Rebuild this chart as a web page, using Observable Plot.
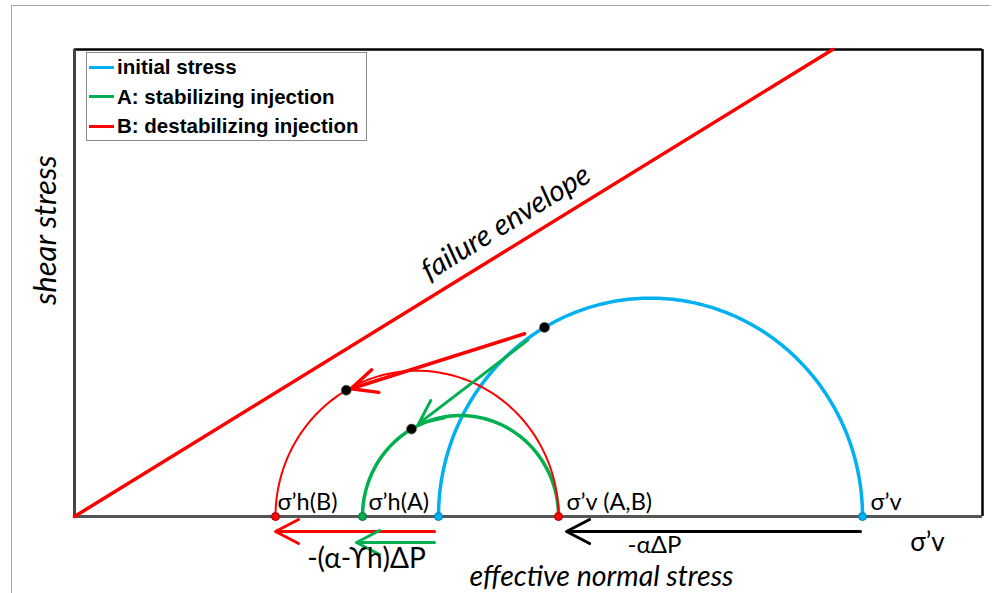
<!DOCTYPE html>
<html>
<head>
<meta charset="utf-8">
<script src="https://cdn.jsdelivr.net/npm/d3@7"></script>
<script src="https://cdn.jsdelivr.net/npm/@observablehq/plot@0.6"></script>
<style>
  body { margin: 0; background: #fff; }
  #wrap { position: relative; width: 999px; height: 593px; overflow: hidden; }
  #sheet { position: absolute; left: 11px; top: 5px; width: 978px; height: 620px;
           border-top: 1px solid #a6a6a6; border-left: 1px solid #a6a6a6; }
  #chart { position: absolute; left: 0; top: 0; }
  #legend { position: absolute; left: 86px; top: 52px; width: 279px; height: 87px;
            border: 1px solid #8c8c8c; background: #fff;
            font: bold 20.5px "Liberation Sans", Arial, sans-serif; color: #000; }
  .row { position: absolute; left: 0; height: 28px; display: flex; align-items: center; white-space: nowrap; }
  .swatch { width: 25px; height: 3px; margin-left: 2px; margin-right: 3px; }
</style>
</head>
<body>
<div id="wrap">
  <div id="sheet"></div>
  <div id="chart"></div>
  <div id="legend"></div>
</div>
<script>
// Mohr circles: initial stress state and the two injection scenarios
const stateNames = ["initial stress", "A: stabilizing injection", "B: destabilizing injection"];
const stateColors = ["#00b0f0", "#00b050", "#ff0000"];
const stateWidths = [3.5, 3.5, 2];
const sigmaH = [36.4, 28.8, 20.1];   // minimum effective stress σ'h
const sigmaV = [78.8, 48.4, 48.4];   // maximum effective stress σ'v
const twoTheta = 120;                 // angle on the circle of the plane of interest, degrees
const mu = 0.598;                     // slope of the failure envelope

// Horizontal shifts drawn under the axis
const shiftFrom  = [36.0, 36.0, 78.6];
const shiftTo    = [20.1, 28.2, 49.2];
const shiftColor = ["#ff0000", "#00b050", "#000000"];
const shiftDy    = [15, 26, 15];

// Point labels on the axis
const pointLabels = ["σ’h(B)", "σ’h(A)", "σ’v (A,B)", "σ’v"];
const pointValues = [20.3, 29.4, 49.2, 79.6];

const xMax = 90.8, yMax = 45.34;

const states = stateNames.map((name, i) => ({
  name, color: stateColors[i], width: stateWidths[i],
  h: sigmaH[i], v: sigmaV[i],
  c: (sigmaH[i] + sigmaV[i]) / 2, r: (sigmaV[i] - sigmaH[i]) / 2
}));

const rad = Math.PI / 180;
const arc = s => d3.range(0, 181, 1).map(a => ({x: s.c + s.r * Math.cos(a * rad), y: s.r * Math.sin(a * rad)}));
const stressPoint = s => ({x: s.c + s.r * Math.cos(twoTheta * rad), y: s.r * Math.sin(twoTheta * rad)});
const [s0, sA, sB] = states;
const p0 = stressPoint(s0), pA = stressPoint(sA), pB = stressPoint(sB);

// screen angle of the envelope (x and y scales differ slightly)
const pxX = (999 - 74 - 17) / xMax, pxY = (593 - 49 - 77) / yMax;
const envAngle = Math.atan(mu * pxY / pxX) / rad;

const axisDots = [
  {x: s0.h, c: s0.color, s: "#0a7fb0"}, {x: s0.v, c: s0.color, s: "#0a7fb0"},
  {x: sA.h, c: sA.color, s: "#0b6b35"},
  {x: sB.h, c: sB.color, s: "#a00000"}, {x: sB.v, c: sB.color, s: "#a00000"}
];

const shifts = shiftFrom.map((f, i) => ({x1: f, x2: shiftTo[i], color: shiftColor[i], dy: shiftDy[i]}));
const labels = pointLabels.map((t, i) => ({t, x: pointValues[i]}));

const font = "Lato, 'Open Sans', sans-serif";

const plot = Plot.plot({
  width: 999, height: 593,
  marginLeft: 74, marginRight: 17, marginTop: 49, marginBottom: 77,
  x: {domain: [0, xMax], axis: null},
  y: {domain: [0, yMax], axis: null},
  style: {background: "transparent", overflow: "visible"},
  marks: [
    // frame
    Plot.ruleY([yMax], {stroke: "#000", strokeWidth: 2.5}),
    Plot.ruleX([xMax], {stroke: "#000", strokeWidth: 2.5}),
    Plot.ruleX([0], {stroke: "#444", strokeWidth: 3}),
    Plot.ruleY([0], {stroke: "#555", strokeWidth: 3}),
    // failure envelope
    Plot.line([[0, 0], [yMax / mu, yMax]], {stroke: "#ff0000", strokeWidth: 3.5}),
    Plot.text(["failure envelope"], {
      x: 44.4, y: 44.4 * mu, dx: -12.6, dy: -20.4, rotate: -envAngle,
      fontFamily: font, fontStyle: "italic", fontSize: 29.5, fill: "#000"
    }),
    // Mohr semicircles
    ...states.map(s => Plot.line(arc(s), {x: "x", y: "y", stroke: s.color, strokeWidth: s.width})),
    // stress paths from the initial state
    Plot.arrow([{a: p0, b: pB}], {
      x1: d => d.a.x, y1: d => d.a.y, x2: d => d.b.x, y2: d => d.b.y,
      stroke: "#ff0000", strokeWidth: 3.5, headLength: 12, headAngle: 50, insetStart: 21, insetEnd: 5
    }),
    Plot.arrow([{a: p0, b: pA}], {
      x1: d => d.a.x, y1: d => d.a.y, x2: d => d.b.x, y2: d => d.b.y,
      stroke: "#00b050", strokeWidth: 3, headLength: 13, headAngle: 50, insetStart: 21, insetEnd: 9
    }),
    Plot.dot([p0, pA, pB], {x: "x", y: "y", r: 5, fill: "#000", stroke: "#556b2f", strokeWidth: 0.6}),
    // shifts of the principal stresses
    ...shifts.map(s => Plot.arrow([s], {
      x1: "x1", x2: "x2", y1: () => 0, y2: () => 0, dy: s.dy,
      stroke: s.color, strokeWidth: 3, headLength: 13, headAngle: 55
    })),
    Plot.dot(axisDots, {x: "x", y: () => 0, r: 4, fill: "c", stroke: "s", strokeWidth: 1}),
    // labels
    Plot.text(labels, {
      x: "x", y: () => 0, text: "t", dy: -14,
      textAnchor: "start", fontFamily: font, fontSize: 23.5, fill: "#000"
    }),
    Plot.text(["-(α-ϒh)ΔP"], {x: 29.2, y: () => 0, dy: 43, fontFamily: font, fontSize: 28, fill: "#000"}),
    Plot.text(["-αΔP"], {x: 58.0, y: () => 0, dy: 29, fontFamily: font, fontSize: 24, fill: "#000"}),
    Plot.text(["σ’v"], {x: 85.3, y: () => 0, dy: 26, fontFamily: font, fontSize: 26, fill: "#000"}),
    Plot.text(["effective normal stress"], {x: 52.7, y: () => 0, dy: 60, fontFamily: font, fontStyle: "italic", fontSize: 28.5, fill: "#000"}),
    Plot.text(["shear stress"], {x: () => 0, y: () => 27.8, dx: -28, rotate: -90, fontFamily: font, fontStyle: "italic", fontSize: 31, fill: "#000"})
  ]
});
document.getElementById("chart").appendChild(plot);

// legend
const legend = document.getElementById("legend");
states.forEach((s, i) => {
  const row = document.createElement("div");
  row.className = "row";
  row.style.top = (i * 29.5) + "px";
  const sw = document.createElement("span");
  sw.className = "swatch";
  sw.style.background = s.color;
  const label = document.createElement("span");
  label.textContent = s.name;
  row.append(sw, label);
  legend.appendChild(row);
});
</script>
</body>
</html>
